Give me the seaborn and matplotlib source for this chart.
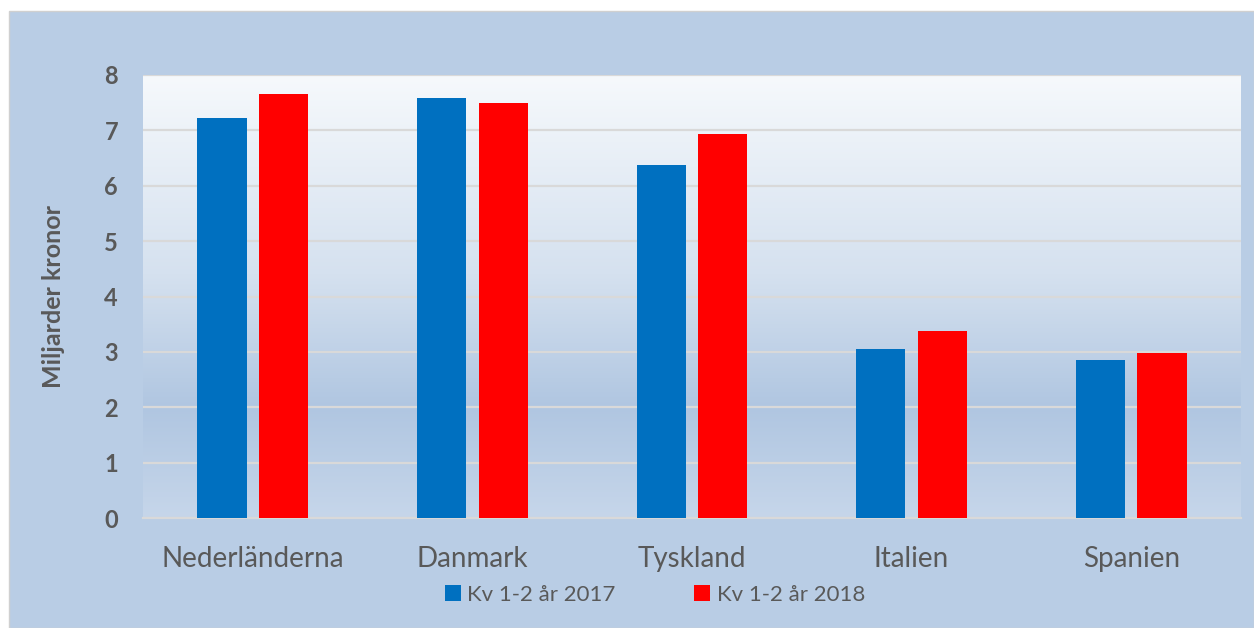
import numpy as np
import pandas as pd
import matplotlib
matplotlib.use("Agg")
import matplotlib.pyplot as plt
from matplotlib.colors import LinearSegmentedColormap
from matplotlib.patches import Rectangle, Patch
import seaborn as sns

countries = ["Nederländerna", "Danmark", "Tyskland", "Italien", "Spanien"]
series_names = ["Kv 1-2 år 2017", "Kv 1-2 år 2018"]
values_2017 = [7.22, 7.58, 6.38, 3.05, 2.86]
values_2018 = [7.66, 7.50, 6.93, 3.38, 2.98]
colors = ["#0070c0", "#ff0000"]

df = pd.DataFrame({
    "Land": countries * 2,
    "Serie": [series_names[0]] * len(countries) + [series_names[1]] * len(countries),
    "Värde": values_2017 + values_2018,
})

sns.set_theme(style="white")
plt.rcParams["font.family"] = ["Lato", "DejaVu Sans"]

fig = plt.figure(figsize=(12.54, 6.28), dpi=100)
fig.patch.set_facecolor("white")
# outer blue panel
fig.patches.append(Rectangle((9 / 1254, 0), 1 - 9 / 1254, 1 - 11 / 628,
                             transform=fig.transFigure, facecolor="#b9cde5",
                             edgecolor="#d0d0d0", linewidth=1.0, zorder=-10))

ax = fig.add_axes([143 / 1254, 110 / 628, (1241 - 143) / 1254, (518 - 75) / 628])
ax.set_facecolor("none")

# gradient plot area
cmap = LinearSegmentedColormap.from_list(
    "bg", [(0.0, "#c6d6ea"), (0.25, "#b0c6e1"), (0.55, "#d5e1ef"), (1.0, "#f6f9fc")])
grad = np.linspace(0, 1, 256).reshape(-1, 1)
ax.imshow(grad, extent=[0, 1, 0, 1], transform=ax.transAxes, aspect="auto",
          cmap=cmap, origin="lower", zorder=0)

sns.barplot(data=df, x="Land", y="Värde", hue="Serie", palette=colors,
            width=0.56, gap=0.2, ax=ax, legend=False, zorder=3, saturation=1,
            linewidth=0)

ax.set_xlim(-0.5, 4.5)
ax.set_ylim(0, 8)
ax.set_yticks(range(0, 9))
ax.yaxis.grid(True, color="#d9d9d9", linewidth=1.6, zorder=1)
ax.set_axisbelow(True)
for s in ["top", "right", "left"]:
    ax.spines[s].set_visible(False)
ax.spines["bottom"].set_color("#d9d9d9")
ax.spines["bottom"].set_linewidth(1.6)

ax.tick_params(axis="y", length=0, pad=18, labelsize=17, labelcolor="#595959")
ax.tick_params(axis="x", length=0, pad=20, labelsize=20, labelcolor="#595959")
for t in ax.get_yticklabels():
    t.set_fontweight("bold")
ax.set_xlabel("")
ax.set_ylabel("Miljarder kronor", fontsize=18, fontweight="bold", color="#595959", labelpad=28)

handles = [Patch(facecolor=c, edgecolor="none") for c in colors]
fig.legend(handles, series_names, loc="center", bbox_to_anchor=(655 / 1254, 1 - 595 / 628),
           ncol=2, frameon=False, fontsize=16, handlelength=0.7, handleheight=0.7,
           handletextpad=0.3, columnspacing=3.55, labelcolor="#595959")

fig.savefig("out.png", dpi=100, facecolor=fig.get_facecolor())
